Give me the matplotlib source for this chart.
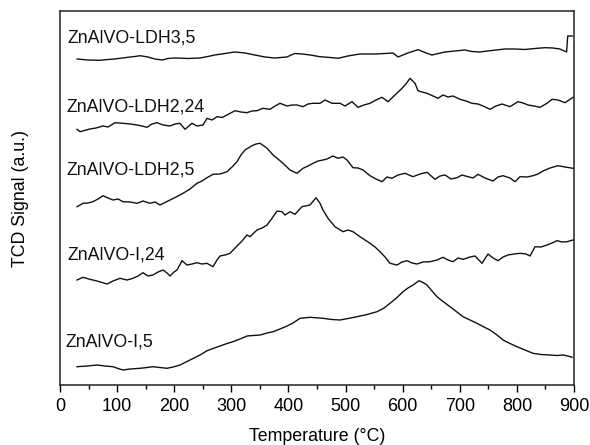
import matplotlib
matplotlib.use('Agg')
import matplotlib.pyplot as plt
from matplotlib.ticker import MultipleLocator

# ── data (temperature in °C, signal in a.u.) ────────────────────────────────

t_ldh3_5 = [30, 49, 70, 84, 96, 109, 123, 131, 140, 154, 166, 179, 189, 201, 224,
            245, 259, 271, 289, 306, 324, 341, 359, 376, 397, 411, 424, 438, 455,
            473, 487, 504, 525, 552, 569, 583, 592, 609, 627, 639, 651, 674, 692,
            709, 721, 735, 756, 779, 797, 814, 832, 849, 863, 875, 887, 889, 897]
s_ldh3_5 = [326, 325, 324.7, 325.5, 326, 327, 328, 328.5, 329.3, 328, 326, 325,
            326.5, 327, 326.5, 327, 328.5, 330, 331.5, 333, 332, 330, 328, 327,
            328, 331.5, 331, 330, 328.3, 327.5, 326.7, 329, 331, 331, 331.5, 332,
            328, 332, 335.3, 332.5, 330, 333, 334, 335, 333.5, 333, 334.5, 336,
            336, 335.5, 336.5, 337.3, 337, 336, 333, 349, 349]

t_ldh2_24 = [29.8, 35.0, 52.5, 63.0, 75.3, 84.0, 96.3, 110.3, 122.6, 134.8, 143.6,
             152.3, 161.1, 169.8, 180.4, 192.6, 201.4, 210.1, 218.9, 231.1, 239.9,
             250.4, 257.4, 266.2, 274.9, 283.7, 292.4, 306.4, 316.9, 327.4, 336.2,
             344.9, 355.5, 367.7, 376.5, 385.2, 397.5, 406.2, 415.0, 425.5, 434.2,
             443.0, 455.3, 464.0, 476.3, 490.3, 499.0, 511.3, 521.8, 532.3, 542.8,
             553.3, 563.8, 574.3, 586.6, 598.8, 605.8, 612.8, 621.6, 626.8, 633.9,
             642.6, 653.1, 661.9, 670.6, 679.4, 688.1, 700.4, 710.9, 721.4, 731.9,
             740.7, 752.9, 763.4, 773.9, 787.9, 801.9, 810.7, 819.5, 830.0, 840.5,
             852.7, 861.5, 872.0, 884.3, 891.3, 898.3]
s_ldh2_24 = [255.7, 253.3, 256, 257, 259, 258, 262.3, 261.7, 261, 260, 259, 257.7,
             261, 262.3, 260, 259, 261, 261.7, 255.7, 261.7, 259, 260, 266.7, 265,
             268.3, 267.5, 270, 274.3, 273, 272.3, 274, 274.3, 276.7, 275.7, 279,
             281.7, 279, 280, 280, 278.3, 281, 281.7, 281.7, 285, 281.7, 281.7, 279,
             283.3, 277.7, 280, 281.7, 285, 287.7, 283.3, 290, 296.7, 301, 306.7,
             301.7, 294.3, 293, 291.7, 289, 286.7, 290, 288, 289, 285.7, 284, 281.7,
             281, 279, 275.7, 279, 281, 278.3, 283.3, 282, 280, 279, 277.7, 281.7,
             285.7, 285, 282.3, 285, 287.7]

t_ldh2_5 = [29.8, 40.3, 49.0, 57.8, 66.5, 75.3, 84.0, 92.8, 101.6, 110.3, 122.6,
            134.8, 145.3, 157.6, 166.3, 175.1, 183.9, 192.6, 203.1, 215.4, 227.6,
            239.9, 248.6, 257.4, 267.9, 280.2, 292.4, 301.2, 309.9, 316.9, 323.9,
            336.2, 343.2, 350.2, 357.2, 362.5, 373.0, 381.7, 390.5, 402.7, 415.0,
            425.5, 434.2, 443.0, 451.8, 460.5, 467.5, 478.0, 486.8, 495.5, 502.5,
            513.0, 521.8, 530.6, 542.8, 553.3, 563.8, 572.6, 581.3, 591.8, 604.1,
            618.1, 630.4, 642.6, 656.6, 665.4, 674.1, 684.6, 695.1, 703.9, 714.4,
            723.2, 731.9, 744.2, 758.2, 766.9, 775.7, 787.9, 796.7, 805.4, 817.7,
            828.2, 837.0, 845.7, 858.0, 872.0, 884.3, 898.3]
s_ldh2_5 = [178.3, 181.7, 182, 183.3, 186, 189.3, 187, 185, 186, 183.3, 183, 181.7,
            184, 181.7, 183, 180, 182.5, 185, 188, 191.7, 196, 201.7, 204, 207.3,
            210.7, 211, 213.3, 218, 223.3, 230, 235, 239.3, 241, 241.7, 239, 236.7,
            230, 226, 221.7, 215, 211.7, 216.7, 219, 221.7, 224, 225, 226, 229,
            226.7, 228, 225, 217.3, 217, 215, 209.3, 206, 203.3, 208, 206.7, 210,
            211.7, 208.3, 211, 212.7, 205.7, 209, 210, 206, 207.3, 210, 208.3, 207,
            210.7, 207, 204, 208, 209.3, 207, 203.3, 208.3, 208, 209.3, 211, 214,
            217, 219.3, 218, 216.7]

t_i_24 = [29.8, 40.3, 52.5, 64.8, 82.3, 92.8, 105.1, 117.3, 127.8, 136.6, 145.3,
          154.1, 162.8, 171.6, 180.4, 187.4, 192.6, 199.6, 204.9, 213.6, 222.4,
          231.1, 239.9, 248.6, 257.4, 267.9, 274.9, 280.2, 288.9, 297.7, 309.9,
          318.7, 327.4, 332.7, 344.9, 353.7, 362.5, 371.2, 380.0, 388.7, 394.0,
          402.7, 411.5, 423.7, 437.7, 448.3, 455.3, 460.5, 469.3, 481.5, 495.5,
          504.3, 513.0, 525.3, 534.1, 542.8, 551.6, 560.3, 569.1, 577.8, 590.1,
          598.8, 607.6, 616.4, 625.1, 635.6, 647.9, 660.1, 670.6, 679.4, 688.1,
          696.9, 705.7, 717.9, 726.7, 738.9, 749.4, 758.2, 766.9, 775.7, 784.4,
          794.9, 805.4, 816.0, 823.0, 831.7, 842.2, 852.7, 861.5, 870.2, 879.0,
          887.7, 898.3]
s_i_24 = [105, 107.7, 105.7, 104, 101, 104, 106.7, 105, 106.7, 109, 112.3, 109,
          110, 113, 115, 112, 109, 113, 115, 124.3, 120, 121, 122.3, 121, 121.7,
          118.3, 125, 129, 130, 131.7, 139, 144, 150, 148.3, 155, 157, 160, 166.7,
          174, 173.3, 170, 173.3, 170.7, 178.3, 180, 187.3, 181.7, 175, 166.7,
          158.3, 153.3, 155, 153.3, 148.3, 145, 141.7, 138, 133.3, 128, 121.7,
          120, 123, 124.3, 122, 121, 123, 123.3, 125, 127.7, 125, 123.3, 127,
          125.7, 128, 129, 121.7, 131, 127, 124.3, 128, 130, 131, 131.7, 131, 129,
          138.3, 138, 140, 142, 144.3, 143, 143.3, 145]

t_i_5 = [29.8, 47.3, 64.8, 78.8, 92.8, 101.6, 110.3, 122.6, 140.1, 152.3, 162.8,
         175.1, 187.4, 197.9, 210.1, 218.9, 227.6, 236.4, 245.1, 257.4, 267.9,
         280.2, 292.4, 302.9, 315.2, 327.4, 337.9, 350.2, 362.5, 373.0, 385.2,
         397.5, 408.0, 420.2, 437.8, 460.5, 476.3, 490.3, 504.3, 520.0, 537.6,
         555.1, 567.3, 577.8, 590.1, 600.6, 609.3, 618.1, 628.6, 635.6, 642.6,
         651.4, 660.1, 670.6, 682.9, 695.1, 705.7, 717.9, 730.2, 740.7, 752.9,
         765.2, 775.7, 787.9, 800.2, 814.2, 828.2, 842.2, 858.0, 870.2, 880.8,
         889.5, 896.5]
s_i_5 = [18.3, 19, 20, 19, 18.3, 16.5, 15, 16, 16.7, 17.5, 18.3, 17.5, 16.7, 18,
         20, 22.5, 25, 27.5, 30, 34.3, 36.5, 39, 41.5, 43.3, 46, 49, 49.5, 50, 52,
         53.3, 56, 59, 62, 66.7, 67.7, 66.7, 65.5, 65, 66.5, 68.3, 70.5, 73.3, 77,
         81.7, 87.5, 93.3, 97, 100, 104.3, 102.5, 100, 94, 88.3, 83.5, 78.3, 73,
         68.3, 65, 61.7, 58.5, 55, 50, 45, 41.5, 38.3, 35, 31.7, 30.5, 30, 29.5,
         30, 29, 27.7]

names = ['ZnAlVO-LDH3,5', 'ZnAlVO-LDH2,24', 'ZnAlVO-LDH2,5', 'ZnAlVO-I,24', 'ZnAlVO-I,5']
label_x = [14, 12, 12, 14, 10]
label_y = [347, 278, 215, 130, 43]

# ── plot ─────────────────────────────────────────────────────────────────────

plt.rcParams.update({'font.family': 'Liberation Sans', 'font.size': 12.8})
fig = plt.figure(figsize=(5.9, 4.45), dpi=100)
ax = fig.add_axes([0.1017, 0.1348, 0.9729 - 0.1017, 0.9753 - 0.1348])

curves = [(t_ldh3_5, s_ldh3_5), (t_ldh2_24, s_ldh2_24), (t_ldh2_5, s_ldh2_5),
          (t_i_24, s_i_24), (t_i_5, s_i_5)]
for (t, s), name, lx, ly in zip(curves, names, label_x, label_y):
    ax.plot(t, s, color='#111111', lw=1.0)
    ax.text(lx, ly, name, fontsize=12.8, va='center', ha='left', color='#111111')

ax.set_xlim(0, 900)
ax.set_ylim(0, 374)
ax.xaxis.set_major_locator(MultipleLocator(100))
ax.xaxis.set_minor_locator(MultipleLocator(50))
ax.tick_params(axis='x', which='major', direction='out', length=5, width=1, pad=4,
               labelsize=13)
ax.tick_params(axis='x', which='minor', direction='out', length=3, width=1)
ax.set_yticks([])
for sp in ax.spines.values():
    sp.set_linewidth(1.1)
    sp.set_color('#222222')

ax.set_xlabel('Temperature (\u00b0C)', labelpad=10)
ax.set_ylabel('TCD Signal (a.u.)', labelpad=22)

fig.savefig('out.png', dpi=100)
plt.close(fig)
